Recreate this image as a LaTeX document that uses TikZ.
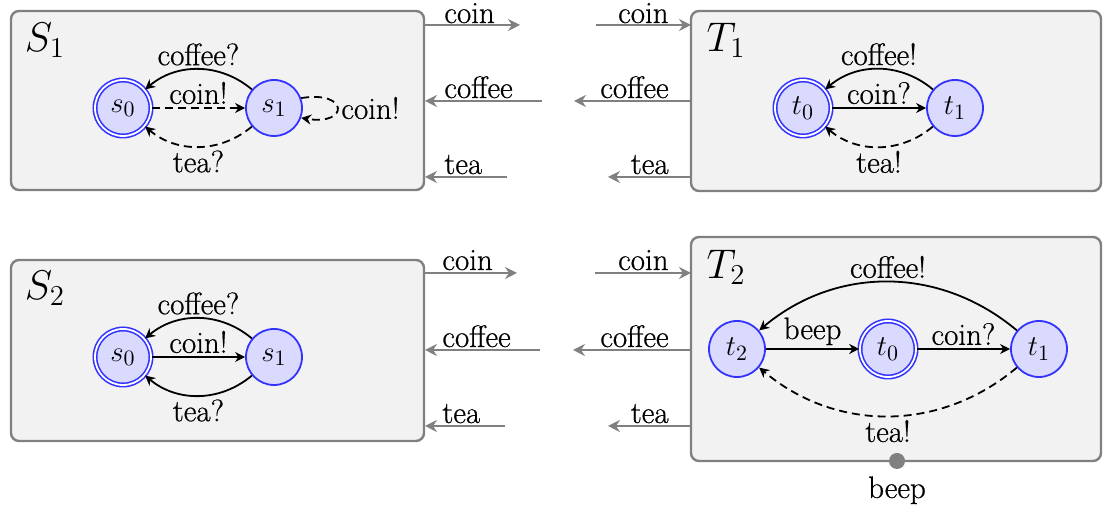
\documentclass[tikz,border=0pt]{standalone}
\usepackage{fontspec}
\setmainfont{Latin Modern Roman}[FakeBold=0.6]
\usetikzlibrary{arrows.meta}
\definecolor{boxfill}{RGB}{242,242,242}
\definecolor{boxline}{RGB}{128,128,128}
\definecolor{stfill}{RGB}{218,218,255}
\definecolor{stline}{RGB}{51,51,255}
\begin{document}
\begin{tikzpicture}[x=0.5pt,y=0.5pt,
  every node/.style={font=\fontsize{15.5}{18}\selectfont},
  box/.style={draw=boxline, fill=boxfill, line width=1.2pt, rounded corners=4pt},
  title/.style={font=\fontsize{22}{26}\selectfont},
  state/.style={circle, draw=stline, fill=stfill, line width=0.9pt, minimum size=28pt, inner sep=0pt, font=\fontsize{15}{18}\selectfont},
  accept/.style={state, line width=0.8pt, double=white, double distance=0.9pt},
  ed/.style={-{Stealth[length=5pt,width=5pt,inset=1.6pt]}, line width=0.9pt},
  dsh/.style={ed, dash pattern=on 4pt off 2.5pt},
  chan/.style={draw=boxline, line width=1.2pt, -{Stealth[length=6pt,width=6pt,inset=2pt]}},
  lab/.style={inner sep=1.5pt}
]
\useasboundingbox (0,0) rectangle (1105,512);

% ---------------- boxes ----------------
\draw[box] (11,322) rectangle (424,501);
\draw[box] (691,321) rectangle (1101,501);
\draw[box] (11,71) rectangle (424,252);
\draw[box] (691,51) rectangle (1101,275);

\node[title] (S1) at (45,472) {$S_1$};
\node[title] (T1) at (726,472) {$T_1$};
\node[title] (S2) at (45,224) {$S_2$};
\node[title] (T2) at (726,245) {$T_2$};

% ---------------- channels, top ----------------
\coordinate (a1) at (424,487); \coordinate (a2) at (520,487);
\coordinate (a3) at (596,487); \coordinate (a4) at (691,487);
\coordinate (b1) at (542,411); \coordinate (b2) at (425,411);
\coordinate (b3) at (691,411); \coordinate (b4) at (574,411);
\coordinate (c1) at (507,335); \coordinate (c2) at (425,335);
\coordinate (c3) at (691,335); \coordinate (c4) at (608,335);
\draw[chan] (a1) -- (a2); \draw[chan] (a3) -- (a4);
\draw[chan] (b1) -- (b2); \draw[chan] (b3) -- (b4);
\draw[chan] (c1) -- (c2); \draw[chan] (c3) -- (c4);
\node[anchor=base west,inner sep=0pt] (la1) at (444,489) {coin};
\node[anchor=base east,inner sep=0pt] (la2) at (669,489) {coin};
\node[anchor=base west,inner sep=0pt] (lb1) at (444,414) {coffee};
\node[anchor=base east,inner sep=0pt] (lb2) at (669,414) {coffee};
\node[anchor=base west,inner sep=0pt] (lc1) at (444,338) {tea};
\node[anchor=base east,inner sep=0pt] (lc2) at (669,338) {tea};

% ---------------- channels, bottom ----------------
\coordinate (d1) at (424,239); \coordinate (d2) at (517,239);
\coordinate (d3) at (595,239); \coordinate (d4) at (691,239);
\coordinate (e1) at (540,162); \coordinate (e2) at (425,162);
\coordinate (e3) at (691,162); \coordinate (e4) at (573,162);
\coordinate (f1) at (505,86); \coordinate (f2) at (425,86);
\coordinate (f3) at (691,86); \coordinate (f4) at (608,86);
\draw[chan] (d1) -- (d2); \draw[chan] (d3) -- (d4);
\draw[chan] (e1) -- (e2); \draw[chan] (e3) -- (e4);
\draw[chan] (f1) -- (f2); \draw[chan] (f3) -- (f4);
\node[anchor=base west,inner sep=0pt] (ld1) at (442,242) {coin};
\node[anchor=base east,inner sep=0pt] (ld2) at (669,242) {coin};
\node[anchor=base west,inner sep=0pt] (le1) at (442,165) {coffee};
\node[anchor=base east,inner sep=0pt] (le2) at (669,165) {coffee};
\node[anchor=base west,inner sep=0pt] (lf1) at (442,89) {tea};
\node[anchor=base east,inner sep=0pt] (lf2) at (669,89) {tea};

% ---------------- S1 ----------------
\node[accept] (p0) at (123,404) {$s_0$};
\node[state] (p1) at (274,404) {$s_1$};
\draw[ed] (p1) to[bend right=40] node[above,lab] {coffee?} (p0);
\draw[dsh] (p0) -- node[above,lab] {coin!} (p1);
\draw[dsh] (p1) to[bend left=40] node[below,lab] {tea?} (p0);
\draw[dsh] (p1.20) .. controls +(48,8) and +(48,-8) .. (p1.-20);
\node[anchor=west,inner sep=0pt] (pl) at (341,404) {coin!};

% ---------------- T1 ----------------
\node[accept] (q0) at (803,404) {$t_0$};
\node[state] (q1) at (955,404) {$t_1$};
\draw[ed] (q1) to[bend right=40] node[above,lab] {coffee!} (q0);
\draw[ed] (q0) -- node[above,lab] {coin?} (q1);
\draw[dsh] (q1) to[bend left=40] node[below,lab] {tea!} (q0);

% ---------------- S2 ----------------
\node[accept] (r0) at (123,155) {$s_0$};
\node[state] (r1) at (274,155) {$s_1$};
\draw[ed] (r1) to[bend right=40] node[above,lab] {coffee?} (r0);
\draw[ed] (r0) -- node[above,lab] {coin!} (r1);
\draw[ed] (r1) to[bend left=40] node[below,lab] {tea?} (r0);

% ---------------- T2 ----------------
\node[state] (u2) at (737,163) {$t_2$};
\node[accept] (u0) at (888,163) {$t_0$};
\node[state] (u1) at (1039,163) {$t_1$};
\draw[ed] (u1) to[bend right=40] node[above,lab] {coffee!} (u2);
\draw[ed] (u2) -- node[above,lab] {beep} (u0);
\draw[ed] (u0) -- node[above,lab] {coin?} (u1);
\draw[dsh] (u1) to[bend left=40] node[below,lab] {tea!} (u2);

\node[circle, fill=boxline, minimum size=8pt, inner sep=0pt] (dot) at (897,51) {};
\node[anchor=north] (bp) at (dot.south) {beep};
\end{tikzpicture}
\end{document}
